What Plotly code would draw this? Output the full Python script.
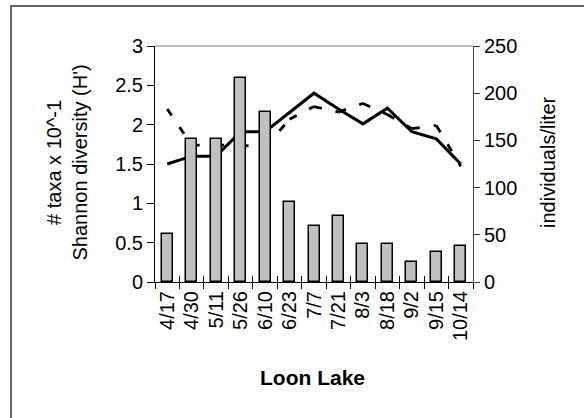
import plotly.graph_objects as go

# Sampling dates, Loon Lake
dates = ["4/17", "4/30", "5/11", "5/26", "6/10", "6/23", "7/7",
         "7/21", "8/3", "8/18", "9/2", "9/15", "10/14"]

# Zooplankton density (individuals/liter) - bars on the right axis
density = [51, 152, 152, 216, 180, 85, 59, 70, 40, 40, 21, 32, 38]

# Number of taxa x 10^-1 - solid line on the left axis
taxa = [1.50, 1.60, 1.60, 1.91, 1.91, 2.15, 2.40, 2.20, 2.01, 2.21, 1.91, 1.82, 1.50]

# Shannon diversity (H') - dashed line on the left axis
shannon = [2.20, 1.74, 1.74, 1.74, 1.71, 2.07, 2.23, 2.16, 2.27, 2.13, 1.95, 1.99, 1.47]

FONT = "Liberation Sans, Arial, sans-serif"

# Dashed series drawn segment by segment so the dash pattern restarts at each date
seg_x, seg_y = [], []
for i in range(len(dates) - 1):
    seg_x += [dates[i], dates[i + 1], None]
    seg_y += [shannon[i], shannon[i + 1], None]

fig = go.Figure()

fig.add_trace(go.Bar(
    x=dates, y=density, yaxis="y2", width=0.45,
    marker=dict(color="#C0C0C0", line=dict(color="black", width=1.5)),
    showlegend=False,
))
fig.add_trace(go.Scatter(
    x=seg_x, y=seg_y, mode="lines", connectgaps=False,
    line=dict(color="black", width=2.8, dash="8px,14px"),
    showlegend=False,
))
fig.add_trace(go.Scatter(
    x=dates, y=taxa, mode="lines",
    line=dict(color="black", width=3),
    showlegend=False,
))
# Carrier for the inward half of the category tick marks
fig.add_trace(go.Scatter(
    x=dates, y=[None] * len(dates), xaxis="x2", mode="lines",
    showlegend=False, hoverinfo="skip",
))

W, H = 584, 418
L, R, T, B = 155, 473, 46, 282
pw, ph = R - L, B - T


def px(x):
    return (x - L) / pw


def py(y):
    return (B - y) / ph


fig.update_layout(
    width=W, height=H,
    margin=dict(l=L, r=W - R, t=T, b=H - B, pad=0),
    paper_bgcolor="white", plot_bgcolor="white",
    font=dict(family=FONT, size=20, color="black"),
    bargap=0,
    xaxis=dict(
        type="category", categoryarray=dates, range=[-0.5, 12.5],
        tickson="boundaries", ticks="outside", ticklen=6, tickwidth=1,
        tickcolor="black", tickangle=-90, showline=True, linecolor="black",
        linewidth=1, showgrid=False, zeroline=False,
        tickfont=dict(family=FONT, size=20, color="black"),
    ),
    xaxis2=dict(
        type="category", categoryarray=dates, range=[-0.5, 12.5],
        overlaying="x", anchor="y", side="bottom",
        tickson="boundaries", ticks="inside", ticklen=6, tickwidth=1,
        tickcolor="black", showticklabels=False, showline=False,
        showgrid=False, zeroline=False,
    ),
    yaxis=dict(
        range=[0, 3], dtick=0.5, ticks="outside", ticklen=7, tickwidth=1,
        tickcolor="black", showline=True, linecolor="black", linewidth=1,
        showgrid=False, zeroline=False,
        tickfont=dict(family=FONT, size=20, color="black"),
    ),
    yaxis2=dict(
        range=[0, 250], dtick=50, overlaying="y", side="right", anchor="x",
        ticks="outside", ticklen=6, tickwidth=1, tickcolor="#404040",
        showline=True, linecolor="#404040", linewidth=1,
        showgrid=False, zeroline=False,
        tickfont=dict(family=FONT, size=20, color="black"),
    ),
    shapes=[
        # top edge of the plot area
        dict(type="line", xref="paper", yref="paper", x0=0, x1=1, y0=1, y1=1,
             line=dict(color="#808080", width=1.2)),
        # chart-area frame
        dict(type="rect", xref="paper", yref="paper",
             x0=px(11), x1=px(W + 20), y0=py(H + 20), y1=py(6),
             line=dict(color="#333333", width=1.5), layer="below"),
    ],
    annotations=[
        dict(text="# taxa x 10^-1<br>Shannon diversity (H')",
             xref="paper", yref="paper", x=px(66.5), y=py(163),
             textangle=-90, showarrow=False, xanchor="center", yanchor="middle",
             font=dict(family=FONT, size=20, color="black")),
        dict(text="individuals/liter",
             xref="paper", yref="paper", x=px(548), y=py(162),
             textangle=-90, showarrow=False, xanchor="center", yanchor="middle",
             font=dict(family=FONT, size=20, color="black")),
        dict(text="<b>Loon Lake</b>",
             xref="paper", yref="paper", x=px(312), y=py(377),
             showarrow=False, xanchor="center", yanchor="middle",
             font=dict(family=FONT, size=21, color="black")),
    ],
)

fig.write_html("out.html")
